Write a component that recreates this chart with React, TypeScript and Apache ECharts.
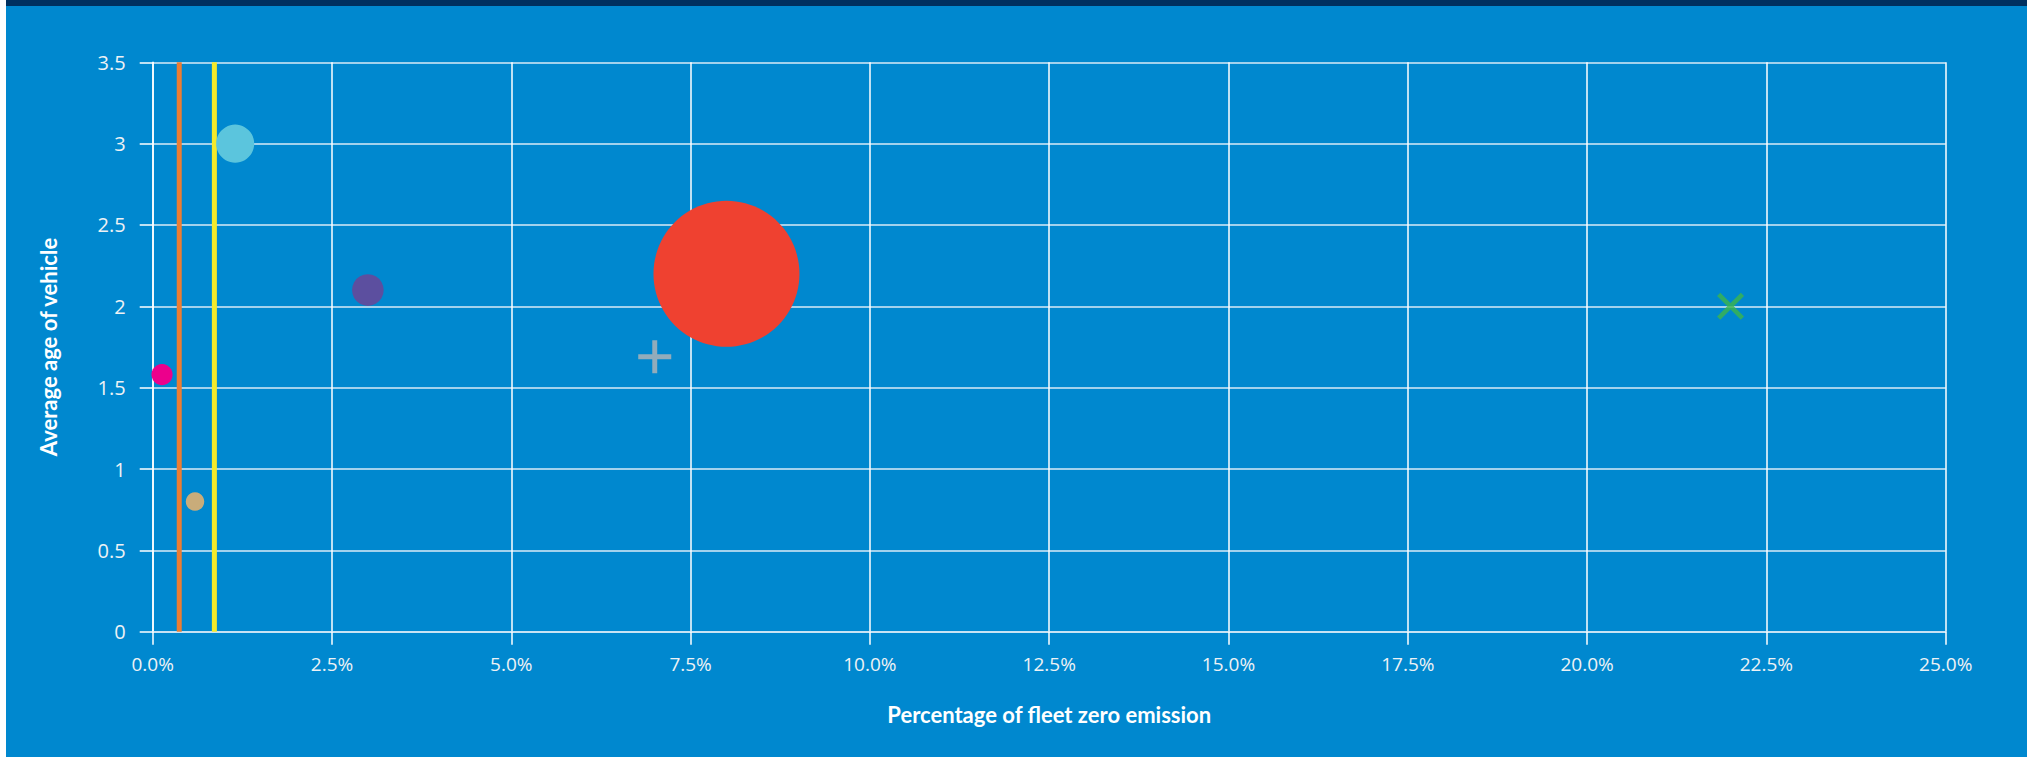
import React, { useEffect, useRef } from "react";
import * as echarts from "echarts";

// ---- data ----
const xTicks = [0, 2.5, 5, 7.5, 10, 12.5, 15, 17.5, 20, 22.5, 25]; // % of fleet zero emission
const yTicks = [0, 0.5, 1, 1.5, 2, 2.5, 3, 3.5]; // average age (years)

// bubbles: x = % fleet zero emission, y = average age, size = relative fleet size
const bubbleNames = ["Operator A", "Operator B", "Operator C", "Operator D", "Operator E"];
const bubbleX = [1.15, 0.13, 0.59, 8.0, 3.0];
const bubbleY = [3.0, 1.58, 0.8, 2.2, 2.1];
const bubbleFleet = [6.8, 2.1, 1.6, 100, 4.7];

const plusPoint = { name: "Operator F", x: 7.0, y: 1.69 };
const crossPoint = { name: "Operator G", x: 22.0, y: 2.0 };

const refLineNames = ["Reference 1", "Reference 2"];
const refLineX = [0.37, 0.86];

// ---- styles ----
const bubbleColors = ["#5bc5dd", "#ec008c", "#c9ac7a", "#ef4130", "#5c4f9f"];
const refLineColors = ["#eb7d33", "#f4ea2a"];
const BG = "#0088cf";
const FONT = "'Open Sans', 'Noto Sans', sans-serif";
const TITLE_FONT = "Lato, sans-serif";

const PLUS = "path://M4.25,0 H5.75 V4.25 H10 V5.75 H5.75 V10 H4.25 V5.75 H0 V4.25 H4.25 Z";
const CROSS =
  "path://M0,1.2 L1.2,0 L5,3.8 L8.8,0 L10,1.2 L6.2,5 L10,8.8 L8.8,10 L5,6.2 L1.2,10 L0,8.8 L3.8,5 Z";

export default function App() {
  const ref = useRef<HTMLDivElement>(null);

  useEffect(() => {
    if (!ref.current) return;
    const chart = echarts.init(ref.current, null, { renderer: "svg" });

    const maxFleet = Math.max(...bubbleFleet);
    const bubbleSeries = bubbleNames.map((name, i) => ({
      name,
      type: "scatter",
      data: [[bubbleX[i], bubbleY[i], bubbleFleet[i]]],
      symbol: "circle",
      symbolSize: (v: number[]) => 146 * Math.sqrt(v[2] / maxFleet),
      itemStyle: { color: bubbleColors[i], opacity: 1 },
      z: 5,
    }));

    const lineSeries = refLineNames.map((name, i) => ({
      name,
      type: "line",
      data: [
        [refLineX[i], yTicks[0]],
        [refLineX[i], yTicks[yTicks.length - 1]],
      ],
      symbol: "none",
      lineStyle: { color: refLineColors[i], width: 5 },
      z: 3,
    }));

    chart.setOption({
      animation: false,
      backgroundColor: BG,
      graphic: [
        {
          type: "rect",
          left: 0,
          top: 0,
          shape: { width: 2021, height: 6 },
          style: { fill: "#00305f" },
          z: 100,
        },
      ],
      grid: { left: 146.7, right: 81.3, top: 62.3, bottom: 125.3 },
      xAxis: {
        type: "value",
        min: xTicks[0],
        max: xTicks[xTicks.length - 1],
        interval: 2.5,
        name: "Percentage of fleet zero emission",
        nameLocation: "middle",
        nameGap: 72,
        nameTextStyle: { color: "#ffffff", fontFamily: TITLE_FONT, fontWeight: "bold", fontSize: 22 },
        axisLine: { show: true, onZero: false, lineStyle: { color: "#d4e8f6", width: 1.5 } },
        axisTick: { show: true, length: 13, lineStyle: { color: "#ffffff", width: 1.5 } },
        axisLabel: {
          color: "#eef2f5",
          fontFamily: FONT,
          fontSize: 19,
          margin: 23,
          formatter: (v: number) => v.toFixed(1) + "%",
        },
        splitLine: { show: true, lineStyle: { color: "#ffffff", width: 1.5 } },
      },
      yAxis: {
        type: "value",
        min: yTicks[0],
        max: yTicks[yTicks.length - 1],
        interval: 0.5,
        name: "Average age of vehicle",
        nameLocation: "middle",
        nameGap: 93,
        nameTextStyle: { color: "#ffffff", fontFamily: TITLE_FONT, fontWeight: "bold", fontSize: 22 },
        axisLine: { show: true, lineStyle: { color: "#ffffff", width: 1.5 } },
        axisTick: { show: true, length: 13, lineStyle: { color: "#ffffff", width: 1.5 } },
        axisLabel: {
          color: "#eef2f5",
          fontFamily: FONT,
          fontSize: 20,
          margin: 27,
          formatter: (v: number) => String(v),
        },
        splitLine: { show: true, lineStyle: { color: "#d9ebf7", width: 1.5 } },
      },
      series: [
        ...lineSeries,
        ...bubbleSeries,
        {
          name: plusPoint.name,
          type: "scatter",
          data: [[plusPoint.x, plusPoint.y]],
          symbol: PLUS,
          symbolSize: 33,
          itemStyle: { color: "#b5b5b5" },
          z: 6,
        },
        {
          name: crossPoint.name,
          type: "scatter",
          data: [[crossPoint.x, crossPoint.y]],
          symbol: CROSS,
          symbolSize: 27,
          itemStyle: { color: "#3cb54a" },
          z: 6,
        },
      ],
    });

    return () => chart.dispose();
  }, []);

  return (
    <div
      ref={ref}
      style={{ position: "fixed", left: 6, top: 0, width: 2021, height: 757 }}
    />
  );
}
